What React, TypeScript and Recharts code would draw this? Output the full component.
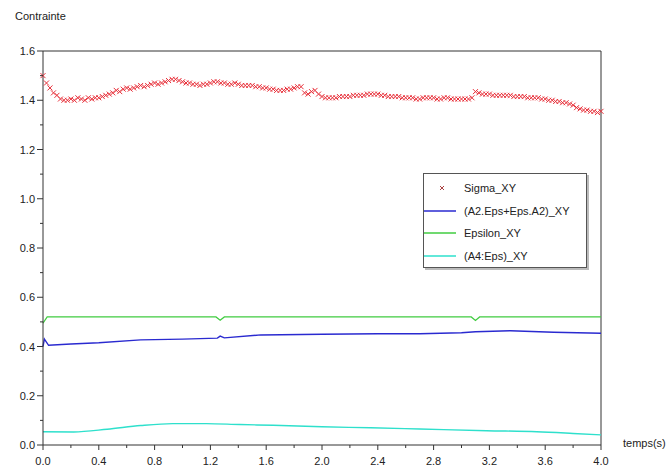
import { ComposedChart, Line, Scatter, XAxis, YAxis, ReferenceLine } from 'recharts';

// sample step of the Sigma_XY markers (s)
const SIGMA_STEP = 0.025;
const sigmaValues = [
  1.5, 1.47, 1.45, 1.43, 1.42, 1.405, 1.4, 1.4, 1.405, 1.4,
  1.41, 1.405, 1.4, 1.41, 1.405, 1.41, 1.41, 1.415, 1.42, 1.425,
  1.43, 1.44, 1.435, 1.445, 1.45, 1.445, 1.45, 1.455, 1.46, 1.455,
  1.46, 1.465, 1.47, 1.465, 1.47, 1.475, 1.48, 1.485, 1.485, 1.48,
  1.475, 1.47, 1.47, 1.465, 1.465, 1.46, 1.465, 1.465, 1.47, 1.475,
  1.475, 1.47, 1.47, 1.465, 1.465, 1.47, 1.465, 1.46, 1.46, 1.46,
  1.46, 1.455, 1.455, 1.45, 1.45, 1.445, 1.445, 1.44, 1.44, 1.44,
  1.445, 1.445, 1.45, 1.455, 1.455, 1.43, 1.425, 1.435, 1.44, 1.425,
  1.415, 1.41, 1.41, 1.41, 1.41, 1.415, 1.415, 1.415, 1.415, 1.42,
  1.42, 1.42, 1.42, 1.425, 1.425, 1.425, 1.425, 1.42, 1.42, 1.415,
  1.415, 1.415, 1.415, 1.41, 1.41, 1.41, 1.41, 1.405, 1.405, 1.41,
  1.41, 1.41, 1.41, 1.405, 1.405, 1.41, 1.41, 1.405, 1.405, 1.405,
  1.405, 1.405, 1.405, 1.41, 1.435, 1.43, 1.425, 1.425, 1.425, 1.42,
  1.42, 1.42, 1.42, 1.42, 1.42, 1.415, 1.415, 1.415, 1.415, 1.41,
  1.41, 1.41, 1.41, 1.405, 1.405, 1.4, 1.4, 1.395, 1.395, 1.39,
  1.39, 1.385, 1.38, 1.37, 1.365, 1.36, 1.36, 1.355, 1.355, 1.35,
  1.355,
];

const a2Times = [0, 0.01, 0.04, 0.2, 0.4, 0.7, 1.0, 1.25, 1.27, 1.3, 1.56, 2.0, 2.4, 2.7, 3.0, 3.1, 3.35, 3.66, 4.0];
const a2Values = [0.4, 0.43, 0.405, 0.41, 0.415, 0.427, 0.43, 0.434, 0.442, 0.435, 0.447, 0.45, 0.452, 0.452, 0.456, 0.46, 0.464, 0.458, 0.454];

const epsTimes = [0, 0.03, 0.5, 1.0, 1.24, 1.27, 1.3, 2.0, 3.0, 3.07, 3.1, 3.13, 3.5, 4.0];
const epsValues = [0.495, 0.52, 0.52, 0.52, 0.52, 0.507, 0.52, 0.52, 0.52, 0.52, 0.506, 0.52, 0.52, 0.52];

const a4Times = [0, 0.22, 0.46, 0.7, 0.93, 1.17, 1.41, 1.65, 2.0, 2.35, 2.7, 3.18, 3.54, 3.8, 4.0];
const a4Values = [0.054, 0.053, 0.064, 0.079, 0.087, 0.087, 0.083, 0.08, 0.074, 0.07, 0.065, 0.058, 0.054, 0.047, 0.041];

const xTicks = [0, 0.2, 0.4, 0.6, 0.8, 1.0, 1.2, 1.4, 1.6, 1.8, 2.0, 2.2, 2.4, 2.6, 2.8, 3.0, 3.2, 3.4, 3.6, 3.8, 4.0];
const yTicks = [0, 0.1, 0.2, 0.3, 0.4, 0.5, 0.6, 0.7, 0.8, 0.9, 1.0, 1.1, 1.2, 1.3, 1.4, 1.5, 1.6];

const RED = '#e8303a';
const BLUE = '#2a2ad0';
const GREEN = '#40cc40';
const CYAN = '#2ee0cc';
const AXIS = '#333';
const FONT = '"Liberation Sans", Arial, sans-serif';

const sigmaData = sigmaValues.map((v, i) => ({ t: i * SIGMA_STEP, v }));
const a2Data = a2Times.map((t, i) => ({ t, v: a2Values[i] }));
const epsData = epsTimes.map((t, i) => ({ t, v: epsValues[i] }));
const a4Data = a4Times.map((t, i) => ({ t, v: a4Values[i] }));

const XTick = ({ x, y, payload }: any) => {
  const major = Math.round(payload.value * 10) % 4 === 0;
  return (
    <g>
      <line x1={x} x2={x} y1={y} y2={y + (major ? 5 : 3)} stroke={AXIS} />
      {major && (
        <text x={x} y={y + 16} textAnchor="middle" dominantBaseline="central" fontSize={11} fill="#222" fontFamily={FONT}>
          {payload.value.toFixed(1)}
        </text>
      )}
    </g>
  );
};

const YTick = ({ x, y, payload }: any) => {
  const major = Math.round(payload.value * 10) % 2 === 0;
  return (
    <g>
      <line x1={x - (major ? 6 : 3)} x2={x} y1={y} y2={y} stroke={AXIS} />
      {major && (
        <text x={x - 8} y={y} textAnchor="end" dominantBaseline="central" fontSize={11} fill="#222" fontFamily={FONT}>
          {payload.value.toFixed(1)}
        </text>
      )}
    </g>
  );
};

const Cross = ({ cx, cy }: any) => (
  <path d={`M${cx - 2.5},${cy - 2.5}L${cx + 2.5},${cy + 2.5}M${cx - 2.5},${cy + 2.5}L${cx + 2.5},${cy - 2.5}`} stroke={RED} strokeWidth={1} />
);

const legendItems = [
  { name: 'Sigma_XY', color: RED, marker: true },
  { name: '(A2.Eps+Eps.A2)_XY', color: BLUE, marker: false },
  { name: 'Epsilon_XY', color: GREEN, marker: false },
  { name: '(A4:Eps)_XY', color: CYAN, marker: false },
];

export default function App() {
  return (
    <div style={{ position: 'fixed', left: 0, top: 0, width: 671, height: 468, background: '#fff', fontFamily: FONT }}>
      <ComposedChart width={671} height={468} margin={{ top: 51, right: 70, bottom: 3, left: 3 }}>
        <XAxis
          dataKey="t"
          type="number"
          domain={[0, 4]}
          ticks={xTicks}
          interval={0}
          height={20}
          tickSize={0}
          tickMargin={0}
          tickLine={false}
          axisLine={{ stroke: AXIS }}
          tick={<XTick />}
        />
        <YAxis
          dataKey="v"
          type="number"
          domain={[0, 1.6]}
          ticks={yTicks}
          interval={0}
          width={40}
          tickSize={0}
          tickMargin={0}
          tickLine={false}
          axisLine={{ stroke: AXIS }}
          tick={<YTick />}
        />
        <ReferenceLine y={1.6} stroke={AXIS} />
        <ReferenceLine x={4} stroke={AXIS} />
        <Line data={a4Data} dataKey="v" type="monotone" stroke={CYAN} strokeWidth={1.4} dot={false} isAnimationActive={false} />
        <Line data={a2Data} dataKey="v" type="linear" stroke={BLUE} strokeWidth={1.4} dot={false} isAnimationActive={false} />
        <Line data={epsData} dataKey="v" type="linear" stroke={GREEN} strokeWidth={1.2} dot={false} isAnimationActive={false} />
        <Scatter data={sigmaData} dataKey="v" shape={<Cross />} isAnimationActive={false} />
      </ComposedChart>

      <div style={{ position: 'absolute', left: 15, top: 10, fontSize: 11, color: '#222' }}>Contrainte</div>
      <div style={{ position: 'absolute', left: 623, top: 437, fontSize: 11, color: '#222', whiteSpace: 'nowrap' }}>temps(s)</div>

      <div
        style={{
          position: 'absolute',
          left: 423,
          top: 173,
          width: 164,
          height: 95,
          boxSizing: 'border-box',
          border: '1px solid #555',
          background: '#fff',
          boxShadow: '2px 2px 0 #bbb',
          paddingTop: 3,
        }}
      >
        {legendItems.map((it) => (
          <div key={it.name} style={{ display: 'flex', alignItems: 'center', height: 22.5, fontSize: 11, color: '#222' }}>
            <svg width={38} height={10} style={{ flex: 'none' }}>
              {it.marker ? (
                <path d="M16,3L20,7M16,7L20,3" stroke="#a44" strokeWidth={1} />
              ) : (
                <line x1={0} x2={32} y1={5} y2={5} stroke={it.color} strokeWidth={1.5} />
              )}
            </svg>
            <span style={{ marginLeft: 2 }}>{it.name}</span>
          </div>
        ))}
      </div>
    </div>
  );
}
